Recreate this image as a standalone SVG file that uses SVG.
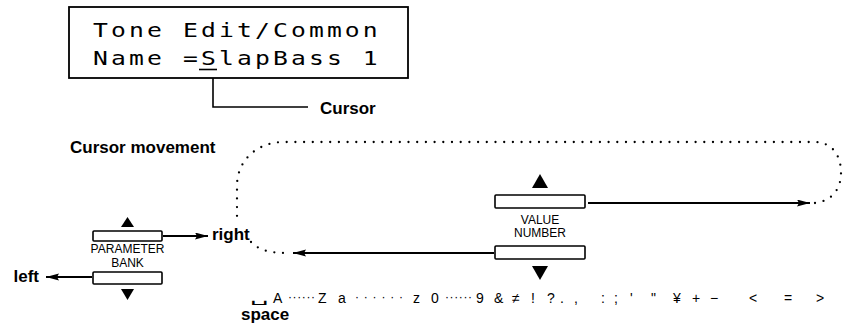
<svg xmlns="http://www.w3.org/2000/svg" width="846" height="327" viewBox="0 0 846 327">
<style>
.lcd{font-family:"DejaVu Sans Mono","Liberation Mono",monospace;font-size:19px;fill:#000}
.lbl{font-family:"Liberation Sans",Arial,sans-serif;font-weight:bold;font-size:17px;fill:#000}
.sm{font-family:"Liberation Sans",Arial,sans-serif;font-size:12px;fill:#000;text-anchor:middle}
.row{font-family:"Liberation Sans",Arial,sans-serif;font-size:14px;fill:#000}
.dots{font-size:12px}
.btn{fill:#fff;stroke:#000;stroke-width:1.6}
.tri{fill:#000}
.ln{fill:none;stroke:#000;stroke-width:1.6}
.arr{fill:none;stroke:#000;stroke-width:2;marker-end:url(#ah)}
.dot{fill:none;stroke:#000;stroke-width:2.3;stroke-linecap:round;stroke-dasharray:0 8.7}
</style>
<defs>
<marker id="ah" markerUnits="userSpaceOnUse" markerWidth="14" markerHeight="8" refX="13" refY="3.5" orient="auto">
<path d="M0,0 L13,3.5 L0,7 L2,3.5 Z" fill="#000"/>
</marker>
</defs>
<rect width="846" height="327" fill="#fff"/>

<g id="lcd">
<rect x="69" y="7" width="339" height="71" fill="#fff" stroke="#000" stroke-width="1.8"/>
<g transform="translate(93,0) scale(1.3,1)">
<text class="lcd" x="0" y="37" letter-spacing="2.41">Tone Edit/Common</text>
<text class="lcd" x="0" y="65" letter-spacing="2.41">Name =SlapBass 1</text>
</g>
<line x1="199" y1="69.5" x2="217" y2="69.5" stroke="#000" stroke-width="1.6"/>
</g>

<g id="cursor-label">
<text class="lbl" x="320" y="114">Cursor</text>
</g>

<g id="title">
<text class="lbl" x="70" y="153">Cursor movement</text>
</g>

<g id="parameter-bank">
<polygon class="tri" points="127.5,217 134,227 121,227"/>
<rect class="btn" x="93" y="231" width="69" height="10" rx="1"/>
<text class="sm" x="127.5" y="253">PARAMETER</text>
<text class="sm" x="127.5" y="267">BANK</text>
<rect class="btn" x="93" y="272" width="69" height="12" rx="1"/>
<polygon class="tri" points="121,289 134,289 127.5,300"/>
</g>

<g id="value-number">
<polygon class="tri" points="540,174 548,188 532,188"/>
<rect class="btn" x="495" y="195" width="90" height="13" rx="1"/>
<text class="sm" x="540" y="224">VALUE</text>
<text class="sm" x="540" y="237">NUMBER</text>
<rect class="btn" x="495" y="246" width="90" height="13" rx="1"/>
<polygon class="tri" points="532,266 548,266 540,280"/>
</g>

<g id="right-label">
<text class="lbl" x="212" y="240">right</text>
</g>
<g id="left-label">
<text class="lbl" x="39" y="282" text-anchor="end">left</text>
</g>

<g id="char-row" class="row">
<text x="250" y="302" font-family="DejaVu Sans" font-size="13" transform="translate(250,0) scale(2.3,1) translate(-250,0)">␣</text>
<text x="273" y="303">A</text>
<text class="dots" x="288" y="301" letter-spacing="0.6">······</text>
<text x="318" y="303">Z</text>
<text x="338" y="303">a</text>
<text class="dots" x="355" y="301" letter-spacing="4.8">······</text>
<text x="413" y="303">z</text>
<text x="431" y="303">0</text>
<text class="dots" x="445" y="301" letter-spacing="0.6">······</text>
<text x="476" y="303">9</text>
<text x="494" y="303">&amp;</text>
<text x="512" y="303">≠</text>
<text x="531" y="303">!</text>
<text x="547" y="303">?</text>
<text x="560" y="303">.</text>
<text x="574" y="303">,</text>
<text x="601" y="303">:</text>
<text x="614" y="303">;</text>
<text x="630" y="303">'</text>
<text x="651" y="303">"</text>
<text x="673" y="303">¥</text>
<text x="692" y="303">+</text>
<text x="710" y="303">−</text>
<text x="749" y="303">&lt;</text>
<text x="784" y="303">=</text>
<text x="816" y="303">&gt;</text>
</g>
<g id="space-label">
<text class="lbl" x="241" y="320" font-size="16">space</text>
</g>

<g id="connectors">
<polyline class="ln" points="213,78 213,107 308,107"/>
<line class="arr" x1="163" y1="236" x2="208" y2="236"/>
<line class="arr" x1="92" y1="277" x2="46" y2="277"/>
<line class="arr" x1="588" y1="203" x2="810" y2="203"/>
<line class="arr" x1="494" y1="253" x2="293" y2="253"/>
<path class="dot" d="M815 203 C832 201 841 189 841 173 C841 155 832 142 814 142 L282 142 C257 143 237 160 237 186 L237 222"/>
<path class="dot" d="M251 242 C259 250 268 253 288 253"/>
</g>
</svg>
